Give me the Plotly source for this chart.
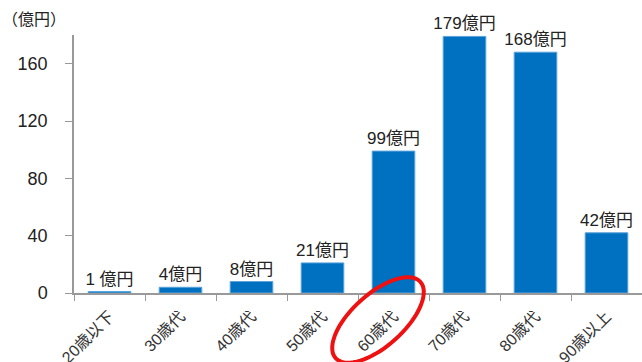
import numpy as np
import plotly.graph_objects as go

categories = ["20歳以下", "30歳代", "40歳代", "50歳代", "60歳代", "70歳代", "80歳代", "90歳以上"]
values = [1, 4, 8, 21, 99, 179, 168, 42]
labels = ["1 億円", "4億円", "8億円", "21億円", "99億円", "179億円", "168億円", "42億円"]
y_ticks = [0, 40, 80, 120, 160]

W, H = 642, 362
ML, MR, MT, MB = 74, 0, 35, 69
PW, PH = W - ML - MR, H - MT - MB

FONT = "Arial, 'Liberation Sans', 'Noto Sans CJK JP', sans-serif"

fig = go.Figure(go.Bar(
    x=categories, y=values, text=labels, textposition="outside",
    cliponaxis=False, constraintext="none",
    textfont=dict(size=17, color="#222", family=FONT),
    marker=dict(color="#0070C0", line=dict(color="#5BA3DA", width=1)),
))

# red ellipse around the 60歳代 label (pixel geometry -> paper coords)
cx, cy, a, b, ang = 378, 320, 57, 26, np.deg2rad(-42)
t = np.linspace(0, 2 * np.pi, 73)
px = cx + a * np.cos(t) * np.cos(ang) - b * np.sin(t) * np.sin(ang)
py = cy + a * np.cos(t) * np.sin(ang) + b * np.sin(t) * np.cos(ang)
xp = (px - ML) / PW
yp = (H - MB - py) / PH
path = "M " + " L ".join(f"{x:.4f},{y:.4f}" for x, y in zip(xp, yp)) + " Z"

fig.update_layout(
    width=W, height=H,
    margin=dict(l=ML, r=MR, t=MT, b=MB, autoexpand=False),
    paper_bgcolor="white", plot_bgcolor="white",
    bargap=0.4, showlegend=False,
    font=dict(family=FONT, color="#222"),
    xaxis=dict(
        tickangle=-45, tickson="boundaries", ticks="outside", ticklen=6,
        tickcolor="#999", showline=True, linecolor="#999", linewidth=1.5,
        tickfont=dict(size=16, color="#333", family=FONT), showgrid=False,
        ticklabelstandoff=6, automargin=False,
    ),
    yaxis=dict(
        range=[0, 180], tickvals=y_ticks, ticks="outside", ticklen=7,
        tickcolor="#999", showline=True, linecolor="#999", linewidth=1.5,
        showgrid=False, zeroline=False, ticklabelstandoff=14, automargin=False,
        tickfont=dict(size=18, color="#222", family=FONT),
    ),
    shapes=[dict(type="path", path=path, xref="paper", yref="paper",
                 line=dict(color="#EE1111", width=4))],
    annotations=[dict(text="（億円）", xref="paper", yref="paper",
                      x=(0 - ML) / PW, y=(H - MB - 20) / PH,
                      xanchor="left", yanchor="middle", showarrow=False,
                      font=dict(size=16, color="#222", family=FONT))],
)

fig.write_html("out.html")
